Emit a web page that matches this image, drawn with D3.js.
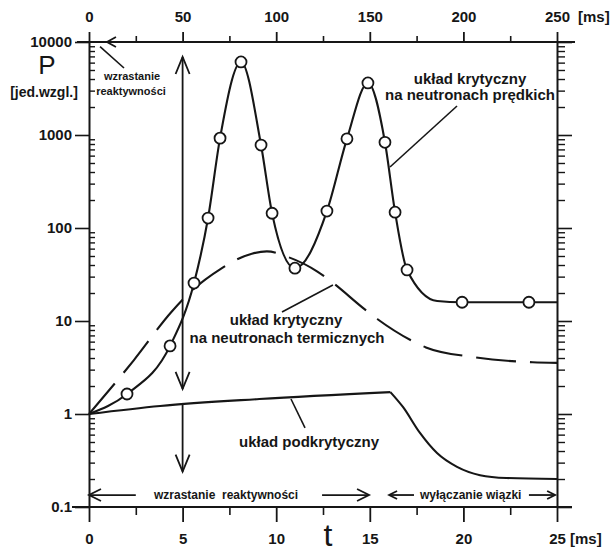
<!DOCTYPE html>
<html>
<head>
<meta charset="utf-8">
<script src="https://cdn.jsdelivr.net/npm/d3@7"></script>
<style>
body { margin: 0; background: #fff; }
svg text { font-family: 'Liberation Sans', Arial, sans-serif; font-weight: bold; fill: #161616; }
.axis path, .axis line { stroke: #161616; }
</style>
</head>
<body>
<div id="chart"></div>
<script>
let width = 613
let height = 553
let plotLeft = 89, plotRight = 557, plotTop = 42, plotBottom = 507

// uklad krytyczny na neutronach predkich (linia ciagla z kolkami)
const promptT = [0, 2.03, 4.33, 5.61, 6.36, 7.0, 8.12, 9.19, 9.78, 11.0, 12.71, 13.78, 14.9, 15.81, 16.35, 16.99, 18.6, 19.93, 23.5, 25]
const promptP = [1, 1.64, 5.4, 25.6, 128, 925, 6100, 780, 144, 37, 152, 910, 3630, 835, 148, 35.4, 16.4, 15.9, 15.9, 15.9]
const markT = [2.03, 4.33, 5.61, 6.36, 7.0, 8.12, 9.19, 9.78, 11.0, 12.71, 13.78, 14.9, 15.81, 16.35, 16.99, 19.93, 23.5]
const markP = [1.64, 5.4, 25.6, 128, 925, 6100, 780, 144, 37, 152, 910, 3630, 835, 148, 35.4, 15.9, 15.9]

// uklad krytyczny na neutronach termicznych (linia przerywana)
const thermT = [0, 2.4, 4.4, 5.3, 7.0, 8.7, 9.5, 10.6, 12.2, 13.0, 14.7, 15.4, 17.2, 18.0, 20.5, 23.7, 25]
const thermP = [1, 3.8, 12.5, 19.5, 36, 53, 56, 49, 34, 26, 13.5, 10.5, 6.2, 5.2, 4.1, 3.6, 3.55]

// uklad podkrytyczny
const subRiseT = [0, 3.8, 9.1, 16.1]
const subRiseP = [1, 1.22, 1.45, 1.72]
const subFallT = [16.1, 16.77, 17.68, 18.59, 19.66, 20.89, 22.3, 25]
const subFallP = [1.72, 1.19, 0.625, 0.38, 0.27, 0.22, 0.205, 0.2]

const yTicks = [0.1, 1, 10, 100, 1000, 10000]
const xTicks = [0, 5, 10, 15, 20, 25]
const xMinor = [2.5, 7.5, 12.5, 17.5, 22.5]
const topTicks = [0, 50, 100, 150, 200, 250]
const topMinor = [25, 75, 125, 175, 225]

let x = d3.scaleLinear().domain([0, 25]).range([plotLeft, plotRight])
let xTop = d3.scaleLinear().domain([0, 250]).range([plotLeft, plotRight])
let y = d3.scaleLog().domain([0.1, 10000]).range([plotBottom, plotTop])
let yMinor = y.ticks().filter(d => yTicks.indexOf(d) < 0)

let svg = d3.select('#chart')
            .append('svg')
            .attr('width', width)
            .attr('height', height)

let ink = '#161616'

// osie
let gLeft = svg.append('g')
    .attr('class', 'axis')
    .attr('transform', 'translate(' + plotLeft + ',0)')
    .call(d3.axisLeft(y).tickValues(yTicks).tickSize(14).tickSizeOuter(0).tickPadding(3).tickFormat(d => d))
gLeft.select('.domain').attr('stroke-width', 2)
gLeft.selectAll('.tick line').attr('stroke-width', 1.6)
gLeft.selectAll('text').style('font-size', '15px')

svg.append('g')
    .attr('class', 'axis')
    .attr('transform', 'translate(' + plotLeft + ',0)')
    .call(d3.axisRight(y).tickValues(yMinor).tickSize(6).tickFormat(''))
    .call(g => g.select('.domain').remove())
    .selectAll('.tick line').attr('stroke-width', 1.4)

let gRight = svg.append('g')
    .attr('class', 'axis')
    .attr('transform', 'translate(' + plotRight + ',0)')
    .call(d3.axisRight(y).tickValues(yTicks).tickSize(15).tickSizeOuter(0).tickFormat(''))
gRight.select('.domain').attr('stroke-width', 2)
gRight.selectAll('.tick line').attr('stroke-width', 1.6)

svg.append('g')
    .attr('class', 'axis')
    .attr('transform', 'translate(' + plotRight + ',0)')
    .call(d3.axisRight(y).tickValues(yMinor).tickSize(8).tickFormat(''))
    .call(g => g.select('.domain').remove())
    .selectAll('.tick line').attr('stroke-width', 1.4)

let gBottom = svg.append('g')
    .attr('class', 'axis')
    .attr('transform', 'translate(0,' + plotBottom + ')')
    .call(d3.axisBottom(x).tickValues(xTicks).tickSize(15).tickPadding(11).tickFormat(d => d))
    .call(g => g.select('.domain').remove())
gBottom.selectAll('.tick line').attr('stroke-width', 1.8)
gBottom.selectAll('text').style('font-size', '15px')

svg.append('g')
    .attr('class', 'axis')
    .attr('transform', 'translate(0,' + plotBottom + ')')
    .call(d3.axisBottom(x).tickValues(xMinor).tickSize(8).tickFormat(''))
    .call(g => g.select('.domain').remove())
    .selectAll('.tick line').attr('stroke-width', 1.6)

let gTop = svg.append('g')
    .attr('class', 'axis')
    .attr('transform', 'translate(0,' + plotTop + ')')
    .call(d3.axisTop(xTop).tickValues(topTicks).tickSize(10).tickPadding(10).tickFormat(d => d))
    .call(g => g.select('.domain').remove())
gTop.selectAll('.tick line').attr('stroke-width', 1.8)
gTop.selectAll('text').style('font-size', '15px')

svg.append('g')
    .attr('class', 'axis')
    .attr('transform', 'translate(0,' + plotTop + ')')
    .call(d3.axisTop(xTop).tickValues(topMinor).tickSize(6).tickFormat(''))
    .call(g => g.select('.domain').remove())
    .selectAll('.tick line').attr('stroke-width', 1.6)

svg.append('line')
    .attr('x1', plotLeft - 17).attr('x2', plotRight + 15)
    .attr('y1', plotBottom).attr('y2', plotBottom)
    .attr('stroke', ink).attr('stroke-width', 2.2)

svg.append('line')
    .attr('x1', plotLeft - 12).attr('x2', plotRight + 18)
    .attr('y1', plotTop).attr('y2', plotTop)
    .attr('stroke', ink).attr('stroke-width', 2.2)

// krzywe
let line = d3.line()
    .x(d => x(d[0]))
    .y(d => y(d[1]))
    .curve(d3.curveMonotoneX)

svg.append('path')
    .datum(d3.zip(thermT, thermP))
    .attr('d', line)
    .attr('fill', 'none')
    .attr('stroke', ink)
    .attr('stroke-width', 2.1)
    .attr('stroke-dasharray', '40,14')

svg.append('path')
    .datum(d3.zip(subRiseT, subRiseP))
    .attr('d', line)
    .attr('fill', 'none')
    .attr('stroke', ink)
    .attr('stroke-width', 2.1)

svg.append('path')
    .datum(d3.zip(subFallT, subFallP))
    .attr('d', line)
    .attr('fill', 'none')
    .attr('stroke', ink)
    .attr('stroke-width', 2.1)

svg.append('path')
    .datum(d3.zip(promptT, promptP))
    .attr('d', line)
    .attr('fill', 'none')
    .attr('stroke', ink)
    .attr('stroke-width', 2.1)

svg.selectAll('.mark')
    .data(d3.zip(markT, markP))
    .enter()
    .append('circle')
    .attr('class', 'mark')
    .attr('cx', d => x(d[0]))
    .attr('cy', d => y(d[1]))
    .attr('r', 5.5)
    .attr('fill', '#fff')
    .attr('stroke', ink)
    .attr('stroke-width', 1.8)

// strzalki i odnosniki
function seg(t1, p1, t2, p2, w) {
    svg.append('line')
        .attr('x1', x(t1)).attr('y1', y(p1))
        .attr('x2', x(t2)).attr('y2', y(p2))
        .attr('stroke', ink)
        .attr('stroke-width', w || 1.8)
}

function head(t, p, dir, len, half) {
    let px = x(t), py = y(p)
    let pts
    if (dir === 'up') pts = [[px - half, py + len], [px, py], [px + half, py + len]]
    if (dir === 'down') pts = [[px - half, py - len], [px, py], [px + half, py - len]]
    if (dir === 'left') pts = [[px + len, py - half], [px, py], [px + len, py + half]]
    if (dir === 'right') pts = [[px - len, py - half], [px, py], [px - len, py + half]]
    svg.append('polyline')
        .attr('points', pts.map(q => q.join(',')).join(' '))
        .attr('fill', 'none')
        .attr('stroke', ink)
        .attr('stroke-width', 1.8)
}

seg(5, 6900, 5, 1.86)
head(5, 6900, 'up', 17, 7)
head(5, 1.86, 'down', 17, 7)
seg(5, 1.25, 5, 0.24)
head(5, 0.24, 'down', 17, 7)

let arrowP = 0.1345
seg(0, arrowP, 2.5, arrowP)
head(0, arrowP, 'left', 12, 6)
seg(12.45, arrowP, 14.96, arrowP)
head(14.96, arrowP, 'right', 12, 6)
seg(16.03, arrowP, 17.36, arrowP)
head(16.03, arrowP, 'left', 8, 4)
seg(23.5, arrowP, 24.9, arrowP)
head(24.9, arrowP, 'right', 8, 4)

head(0.96, 10000, 'left', 9, 5)
seg(0.59, 8900, 1.87, 5250, 1.6)

seg(19.66, 2050, 16.08, 453, 1.6)
seg(10.31, 12.5, 13.03, 24.4, 1.6)
seg(11.54, 0.71, 10.79, 1.45, 1.6)

// napisy
function label(txt, px, py, size, anchor, weight) {
    svg.append('text')
        .attr('x', px)
        .attr('y', py)
        .attr('text-anchor', anchor || 'middle')
        .style('font-size', size + 'px')
        .style('font-weight', weight || 'bold')
        .text(txt)
}

label('P', 47, 74, 26, 'middle', 'normal')
label('[jed.wzgl.]', 44, 97, 14)
label('t', 328, 546, 32, 'middle', 'normal')
label('[ms]', 570, 544, 15, 'start')
label('[ms]', 578, 22, 15, 'start')

label('układ krytyczny', 470, 84, 15)
label('na neutronach prędkich', 470, 100, 15)
label('układ krytyczny', 286, 325, 15)
label('na neutronach termicznych', 287, 343, 15)
label('układ podkrytyczny', 309, 447, 15)
label('wzrastanie', 132, 80, 11)
label('reaktywności', 131, 95, 11)
label('wzrastanie\u00a0\u00a0reaktywności', 154, 499, 12, 'start')
label('wyłączanie wiązki', 420, 499, 12, 'start')
</script>
</body>
</html>
